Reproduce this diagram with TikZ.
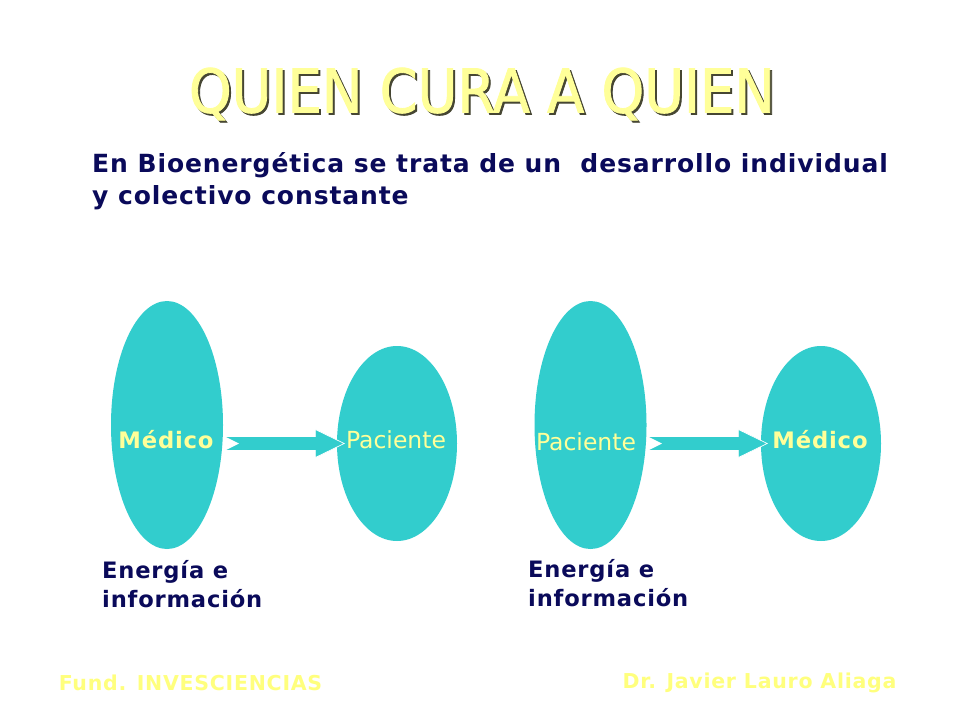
\documentclass[tikz,border=0pt]{standalone}
\usepackage{fontspec}
\setmainfont{DejaVu Sans}
\newfontfamily\titlefont[FakeBold=1.4]{DejaVu Sans Condensed}
\newfontfamily\spacedfont[LetterSpace=3.6]{DejaVu Sans}
\usetikzlibrary{arrows.meta,shapes.geometric,calc}
\definecolor{tealfill}{RGB}{50,205,205}
\definecolor{navy}{RGB}{10,10,90}
\definecolor{paleyellow}{RGB}{255,255,153}
\definecolor{footyellow}{RGB}{255,255,125}
\definecolor{titleshadow}{RGB}{70,70,50}
\tikzset{
  x=1pt,y=-1pt,
  blob/.style={ellipse,fill=tealfill,inner sep=0pt,minimum width=#1},
  plainword/.style={font=\fontsize{23.5}{28}\selectfont,text=paleyellow,inner sep=0pt},
  boldword/.style={font=\fontsize{22.7}{26}\spacedfont\bfseries,text=paleyellow,inner sep=0pt},
  flow/.style={draw=tealfill,line width=13pt,
    -{Triangle[length=30pt,width=29pt,fill=tealfill,color=white,line width=0.7pt]}},
  shaft/.style={draw=tealfill,line width=13pt,shorten >=28pt},
  notch/.style={fill=white},
  note/.style={anchor=west,align=left,text=navy,inner sep=0pt,font=\fontsize{22.6}{29}\spacedfont\bfseries},
  foot/.style={text=footyellow,inner sep=0pt,font=\fontsize{20.5}{24}\spacedfont\bfseries},
}
\begin{document}
\begin{tikzpicture}
\useasboundingbox (0,0) rectangle (960,720);
\fill[white] (0,0) rectangle (960,720);
\node[inner sep=0pt,text=titleshadow,font=\fontsize{60.4}{70}\titlefont] at (484,96) {QUIEN CURA A QUIEN};
\node[inner sep=0pt,text=paleyellow,font=\fontsize{60.4}{70}\titlefont] (title) at (482,94) {QUIEN CURA A QUIEN};
\node[anchor=north west,align=left,text=navy,inner sep=0pt,font=\fontsize{25}{32}\spacedfont\bfseries] (intro) at (92,152) {En Bioenergética se trata de un\ \ desarrollo individual\\y colectivo constante};
\node[blob=112pt,minimum height=248pt] (m1) at (167,425) {};
\node[blob=120pt,minimum height=195pt] (p1) at (397,443.5) {};
\node[blob=112pt,minimum height=248pt] (p2) at (590.5,425) {};
\node[blob=120pt,minimum height=195pt] (m2) at (821,443.5) {};
\coordinate (a1) at (226,443.5);
\coordinate (b1) at (345,443.5);
\coordinate (a2) at (649,443.5);
\coordinate (b2) at (768,443.5);
\draw[flow] (a1) -- (b1);
\draw[shaft] (a1) -- (b1);
\fill[notch] ($(a1)+(-1,-7)$) -- ($(a1)+(13,0)$) -- ($(a1)+(-1,7)$) -- cycle;
\draw[flow] (a2) -- (b2);
\draw[shaft] (a2) -- (b2);
\fill[notch] ($(a2)+(-1,-7)$) -- ($(a2)+(13,0)$) -- ($(a2)+(-1,7)$) -- cycle;
\node[boldword] at (166,440) {Médico};
\node[plainword] at (396,440) {Paciente};
\node[plainword] at (586,442) {Paciente};
\node[boldword] at (820,440) {Médico};
\node[note] (n1) at (102,584) {Energía e\\información};
\node[note] (n2) at (528,583) {Energía e\\información};
\node[foot] (f1) at (190.5,683) {Fund. INVESCIENCIAS};
\node[foot] (f2) at (759.5,683) {Dr. Javier Lauro Aliaga};
\end{tikzpicture}
\end{document}
